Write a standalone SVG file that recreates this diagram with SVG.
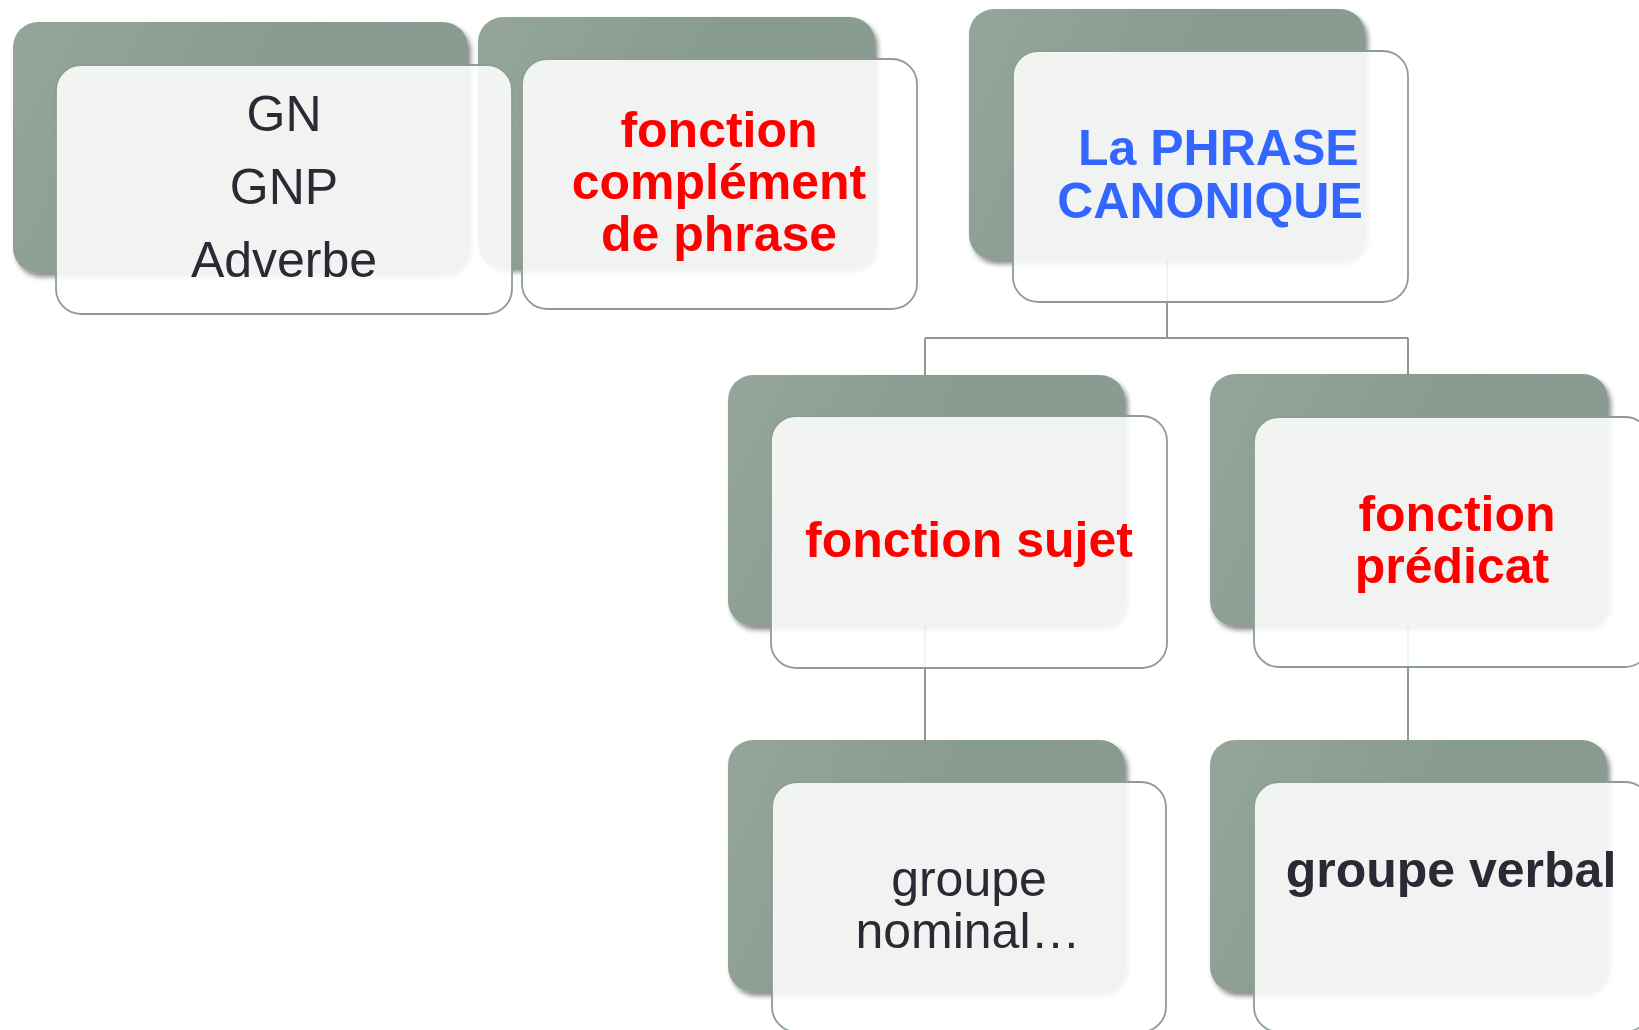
<svg xmlns="http://www.w3.org/2000/svg" width="1639" height="1030" viewBox="0 0 1639 1030">
<defs>
<linearGradient id="backGrad" x1="0" y1="0" x2="1" y2="0.3">
<stop offset="0" stop-color="#95a59a"/>
<stop offset="0.6" stop-color="#889b8f"/>
<stop offset="1" stop-color="#8a9c91"/>
</linearGradient>
<filter id="shadow" x="-10%" y="-10%" width="125%" height="125%">
<feDropShadow dx="3" dy="4" stdDeviation="2.5" flood-color="#000" flood-opacity="0.45"/>
</filter>
<style>
.back{fill:url(#backGrad);filter:url(#shadow);}
.front{fill:#ffffff;fill-opacity:0.88;stroke:#8c9e94;stroke-width:1.8;}
.conn{fill:none;stroke:#8a9c91;stroke-width:2;}
text{font-family:"Liberation Sans",Arial,sans-serif;font-size:50px;}
.reg{fill:#2a2a34;}
.bold{font-weight:bold;}
.red{fill:#ff0000;font-weight:bold;}
.blue{fill:#3366ff;font-weight:bold;}
.dark{fill:#2a2a34;font-weight:bold;}
</style>
</defs>
<rect width="1639" height="1030" fill="#ffffff"/>
<g id="connectors">
<path class="conn" d="M1167,260 V338 M925,338 H1408 M925,338 V375 M1408,338 V374"/>
<path class="conn" d="M925,626 V740"/>
<path class="conn" d="M1408,626 V740"/>
</g>
<g id="node-complement">
<rect class="back" x="478" y="17" width="397" height="251" rx="25"/>
<rect class="front" x="522" y="59" width="395" height="250" rx="25"/>
<text class="red" text-anchor="middle" x="719" y="147">fonction</text>
<text class="red" text-anchor="middle" x="719" y="199">complément</text>
<text class="red" text-anchor="middle" x="719" y="251">de phrase</text>
</g>
<g id="node-gn">
<rect class="back" x="13" y="22" width="455" height="251" rx="25"/>
<rect class="front" x="56" y="65" width="456" height="249" rx="25"/>
<text class="reg" text-anchor="middle" x="284" y="131">GN</text>
<text class="reg" text-anchor="middle" x="284" y="204">GNP</text>
<text class="reg" text-anchor="middle" x="284" y="277">Adverbe</text>
</g>
<g id="node-phrase">
<rect class="back" x="969" y="9" width="396" height="251" rx="25"/>
<rect class="front" x="1013" y="51" width="395" height="251" rx="25"/>
<text class="blue" x="1078" y="165">La PHRASE</text>
<text class="blue" text-anchor="middle" x="1210" y="218">CANONIQUE</text>
</g>
<g id="node-sujet">
<rect class="back" x="728" y="375" width="397" height="251" rx="25"/>
<rect class="front" x="771" y="416" width="396" height="252" rx="25"/>
<text class="red" text-anchor="middle" x="969" y="557">fonction sujet</text>
</g>
<g id="node-predicat">
<rect class="back" x="1210" y="374" width="398" height="252" rx="25"/>
<rect class="front" x="1254" y="417" width="396" height="250" rx="25"/>
<text class="red" text-anchor="middle" x="1457" y="531">fonction</text>
<text class="red" text-anchor="middle" x="1452" y="583">prédicat</text>
</g>
<g id="node-nominal">
<rect class="back" x="728" y="740" width="397" height="252" rx="25"/>
<rect class="front" x="772" y="782" width="394" height="250" rx="25"/>
<text class="reg" text-anchor="middle" x="969" y="896">groupe</text>
<text class="reg" text-anchor="middle" x="968" y="948">nominal…</text>
</g>
<g id="node-verbal">
<rect class="back" x="1210" y="740" width="397" height="252" rx="25"/>
<rect class="front" x="1254" y="782" width="396" height="250" rx="25"/>
<text class="dark" text-anchor="middle" x="1451" y="887">groupe verbal</text>
</g>
</svg>
